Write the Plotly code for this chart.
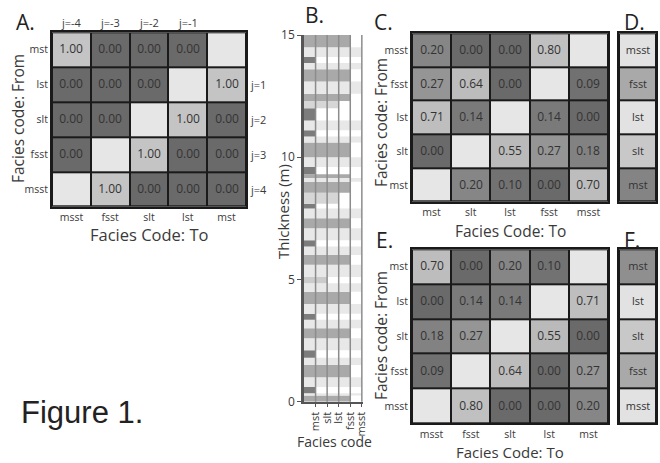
import plotly.graph_objects as go

W, H = 660, 463
FONT = "Open Sans"
TXT = "#3a3a3a"

# ---------------- data ----------------
a_cols = ["msst", "fsst", "slt", "lst", "mst"]
a_rows = ["mst", "lst", "slt", "fsst", "msst"]
a_vals = [
    [1.00, 0.00, 0.00, 0.00, None],
    [0.00, 0.00, 0.00, None, 1.00],
    [0.00, 0.00, None, 1.00, 0.00],
    [0.00, None, 1.00, 0.00, 0.00],
    [None, 1.00, 0.00, 0.00, 0.00],
]
a_top_labels = ["j=-4", "j=-3", "j=-2", "j=-1"]
a_right_labels = ["j=1", "j=2", "j=3", "j=4"]

c_cols = ["mst", "slt", "lst", "fsst", "msst"]
c_rows = ["msst", "fsst", "lst", "slt", "mst"]
c_vals = [
    [0.20, 0.00, 0.00, 0.80, None],
    [0.27, 0.64, 0.00, None, 0.09],
    [0.71, 0.14, None, 0.14, 0.00],
    [0.00, None, 0.55, 0.27, 0.18],
    [None, 0.20, 0.10, 0.00, 0.70],
]

e_cols = ["msst", "fsst", "slt", "lst", "mst"]
e_rows = ["mst", "lst", "slt", "fsst", "msst"]
e_vals = [
    [0.70, 0.00, 0.20, 0.10, None],
    [0.00, 0.14, 0.14, None, 0.71],
    [0.18, 0.27, None, 0.55, 0.00],
    [0.09, None, 0.64, 0.00, 0.27],
    [None, 0.80, 0.00, 0.00, 0.20],
]

d_rows = ["msst", "fsst", "lst", "slt", "mst"]
d_shade = [0.95, 0.45, 0.95, 0.65, 0.10]
f_rows = ["mst", "lst", "slt", "fsst", "msst"]
f_shade = [0.20, 0.95, 0.65, 0.45, 0.95]

# stratigraphic column (panel B): layer tops (m) and facies, bottom -> top
layer_top = [0.25, 0.35, 0.60, 1.00, 1.50, 1.80, 2.10, 2.60, 3.00, 3.35,
             3.60, 4.00, 4.50, 4.85, 5.10, 5.60, 6.00, 6.35, 6.60, 7.10,
             7.50, 7.90, 8.10, 8.55, 9.00, 9.15, 9.30, 9.60, 10.00, 10.60,
             10.85, 11.10, 11.50, 12.00, 12.30, 12.60, 13.10, 13.60, 13.85, 14.10,
             14.50, 15.00]
layer_facies = ["fsst", "msst", "mst", "msst", "fsst", "msst", "mst", "msst", "fsst", "msst",
                "mst", "msst", "fsst", "msst", "slt", "msst", "fsst", "msst", "mst", "msst",
                "fsst", "msst", "mst", "lst", "fsst", "msst", "fsst", "mst", "msst", "fsst",
                "msst", "mst", "msst", "mst", "lst", "fsst", "msst", "fsst", "msst", "mst",
                "msst", "fsst"]
b_facies = ["mst", "slt", "lst", "fsst", "msst"]
b_colors = {"mst": "#7c7c7c", "slt": "#cbcbcb", "lst": "#d6d6d6",
            "fsst": "#a9a9a9", "msst": "#e8e8e8"}

# ---------------- helpers ----------------
def px(p):
    return p / W

def py(p):
    return 1 - p / H

DIAG = "#e6e6e6"
mat_scale = [[0.0, DIAG], [0.499, DIAG], [0.5, "#6a6a6a"], [0.55, "#727272"],
             [0.6, "#868686"], [0.65, "#9b9b9b"], [0.75, "#b9b9b9"], [1.0, "#c4c4c4"]]
col_scale = [[0.0, "#7a7a7a"], [0.45, "#a9a9a9"], [0.65, "#c8c8c8"], [1.0, DIAG]]


def matrix_trace(vals, cols, rows, xa, ya):
    z = [[-1 if v is None else v for v in r] for r in vals]
    t = [["" if v is None else f"{v:.2f}" for v in r] for r in vals]
    return go.Heatmap(z=z, x=cols, y=rows, text=t, texttemplate="%{text}",
                      textfont=dict(family=FONT, size=12, color="#333333"),
                      colorscale=mat_scale, zmin=-1, zmax=1, showscale=False,
                      xgap=2, ygap=2, xaxis=xa, yaxis=ya, hoverinfo="skip")


def column_trace(shade, rows, xa, ya):
    return go.Heatmap(z=[[s] for s in shade], x=["c"], y=rows,
                      text=[[r] for r in rows], texttemplate="%{text}",
                      textfont=dict(family=FONT, size=11, color="#333333"),
                      colorscale=col_scale, zmin=0, zmax=1, showscale=False,
                      xgap=2, ygap=2, xaxis=xa, yaxis=ya, hoverinfo="skip")


fig = go.Figure()
fig.add_trace(matrix_trace(a_vals, a_cols, a_rows, "x", "y"))
fig.add_trace(matrix_trace(c_vals, c_cols, c_rows, "x3", "y3"))
fig.add_trace(column_trace(d_shade, d_rows, "x4", "y4"))
fig.add_trace(matrix_trace(e_vals, e_cols, e_rows, "x5", "y5"))
fig.add_trace(column_trace(f_shade, f_rows, "x6", "y6"))

# panel B bars
level = {f: i + 1 for i, f in enumerate(b_facies)}
bottoms = [0.0] + layer_top[:-1]
mids = [(b + t) / 2 for b, t in zip(bottoms, layer_top)]
thick = [t - b for b, t in zip(bottoms, layer_top)]
fig.add_trace(go.Bar(orientation="h", x=[level[f] for f in layer_facies], y=mids,
                     width=thick, base=0,
                     marker=dict(color=[b_colors[f] for f in layer_facies], line_width=0),
                     xaxis="x2", yaxis="y2", hoverinfo="skip"))

# ---------------- axes ----------------
tickfont = dict(family=FONT, size=10.5, color=TXT)
mat_ax = dict(showline=True, mirror=True, linecolor="#1a1a1a", linewidth=2,
              ticks="", showgrid=False, zeroline=False, tickfont=tickfont,
              fixedrange=True, automargin=False)

dom = {
    "A": ([px(52), px(246)], [py(206.7), py(32.3)]),
    "C": ([px(412), px(608)], [py(201.7), py(33.3)]),
    "D": ([px(619), px(656)], [py(201.7), py(33.3)]),
    "E": ([px(412), px(608)], [py(423.3), py(249.3)]),
    "F": ([px(619), px(656)], [py(423.3), py(249.3)]),
}

layout_axes = {}
for key, xa, ya in [("A", "xaxis", "yaxis"), ("C", "xaxis3", "yaxis3"),
                    ("D", "xaxis4", "yaxis4"), ("E", "xaxis5", "yaxis5"),
                    ("F", "xaxis6", "yaxis6")]:
    xd, yd = dom[key]
    xs = xa.replace("axis", "")
    ys = ya.replace("axis", "")
    show = key in ("A", "C", "E")
    layout_axes[xa] = dict(mat_ax, domain=xd, anchor=ys, showticklabels=show)
    layout_axes[ya] = dict(mat_ax, domain=yd, anchor=xs, autorange="reversed",
                           showticklabels=show)

layout_axes["xaxis2"] = dict(domain=[px(304), px(363)], anchor="y2", range=[0, 5.1],
                             tickvals=[1, 2, 3, 4, 5], ticktext=b_facies, tickangle=-90,
                             ticks="outside", ticklen=4, tickcolor="#555555",
                             showline=True, linecolor="#555555", linewidth=1.5,
                             showgrid=False, zeroline=False,
                             tickfont=dict(family=FONT, size=11, color=TXT),
                             automargin=False, fixedrange=True)
layout_axes["yaxis2"] = dict(domain=[py(401.7), py(35)], anchor="x2", range=[0, 15],
                             tickvals=[0, 5, 10, 15], ticks="outside", ticklen=4,
                             tickcolor="#555555", showline=True, linecolor="#555555",
                             linewidth=2.5, showgrid=False, zeroline=False,
                             tickfont=dict(family=FONT, size=12, color=TXT),
                             automargin=False, fixedrange=True)

shapes = []
for xs, ys in [("x", "y"), ("x3", "y3"), ("x4", "y4"), ("x5", "y5"), ("x6", "y6")]:
    shapes.append(dict(type="rect", xref=f"{xs} domain", yref=f"{ys} domain",
                       x0=0, x1=1, y0=0, y1=1, fillcolor="#1a1a1a",
                       line_width=0, layer="below"))
for k in range(1, len(b_facies) + 1):
    shapes.append(dict(type="line", xref="x2", yref="y2 domain", x0=k, x1=k,
                       y0=0, y1=1, line=dict(color="#8c8c8c", width=1.5), layer="above"))

# ---------------- annotations ----------------
ann = []

def text(s, x, y, size, xanchor="center", yanchor="middle", angle=0,
         family=FONT, color=TXT):
    ann.append(dict(text=s, x=px(x), y=py(y), xref="paper", yref="paper",
                    xanchor=xanchor, yanchor=yanchor, textangle=angle,
                    showarrow=False, font=dict(family=family, size=size, color=color)))

for lab, letter_x, letter_y in [("A.", 14, 22), ("B.", 303, 15), ("C.", 372, 22),
                                ("D.", 622, 22), ("E.", 374, 240), ("F.", 622, 240)]:
    text(lab, letter_x, letter_y, 21, xanchor="left", color="#222222")

for i, lab in enumerate(a_top_labels):
    ann.append(dict(text=lab, x=a_cols[i], y=1, xref="x", yref="y domain",
                    yanchor="bottom", yshift=0, showarrow=False,
                    font=dict(family=FONT, size=11, color=TXT)))
for i, lab in enumerate(a_right_labels):
    ann.append(dict(text=lab, x=1, y=a_rows[i + 1], xref="x domain", yref="y",
                    xanchor="left", xshift=2, showarrow=False,
                    font=dict(family=FONT, size=11, color=TXT)))

text("Facies Code: To", 149, 234, 16.5)
text("Facies code: From", 18, 119, 15.5, angle=-90)
text("Thickness (m)", 283, 212, 15, angle=-90)
text("Facies code", 334, 441, 14)
text("Facies Code: To", 510, 231, 15.5)
text("Facies code: From", 381, 123, 15.5, angle=-90)
text("Facies Code: To", 510, 452, 15)
text("Facies code: From", 381, 336, 15.5, angle=-90)
text("Figure 1.", 19, 412, 31, xanchor="left", family="Liberation Sans", color="#222222")

fig.update_layout(width=W, height=H, margin=dict(l=0, r=0, t=0, b=0, pad=0, autoexpand=False),
                  paper_bgcolor="white", plot_bgcolor="white", showlegend=False,
                  shapes=shapes, annotations=ann, **layout_axes)

fig.write_html("out.html", config={"displayModeBar": False},
               post_script="document.body.style.margin='0';document.body.style.padding='0';")
